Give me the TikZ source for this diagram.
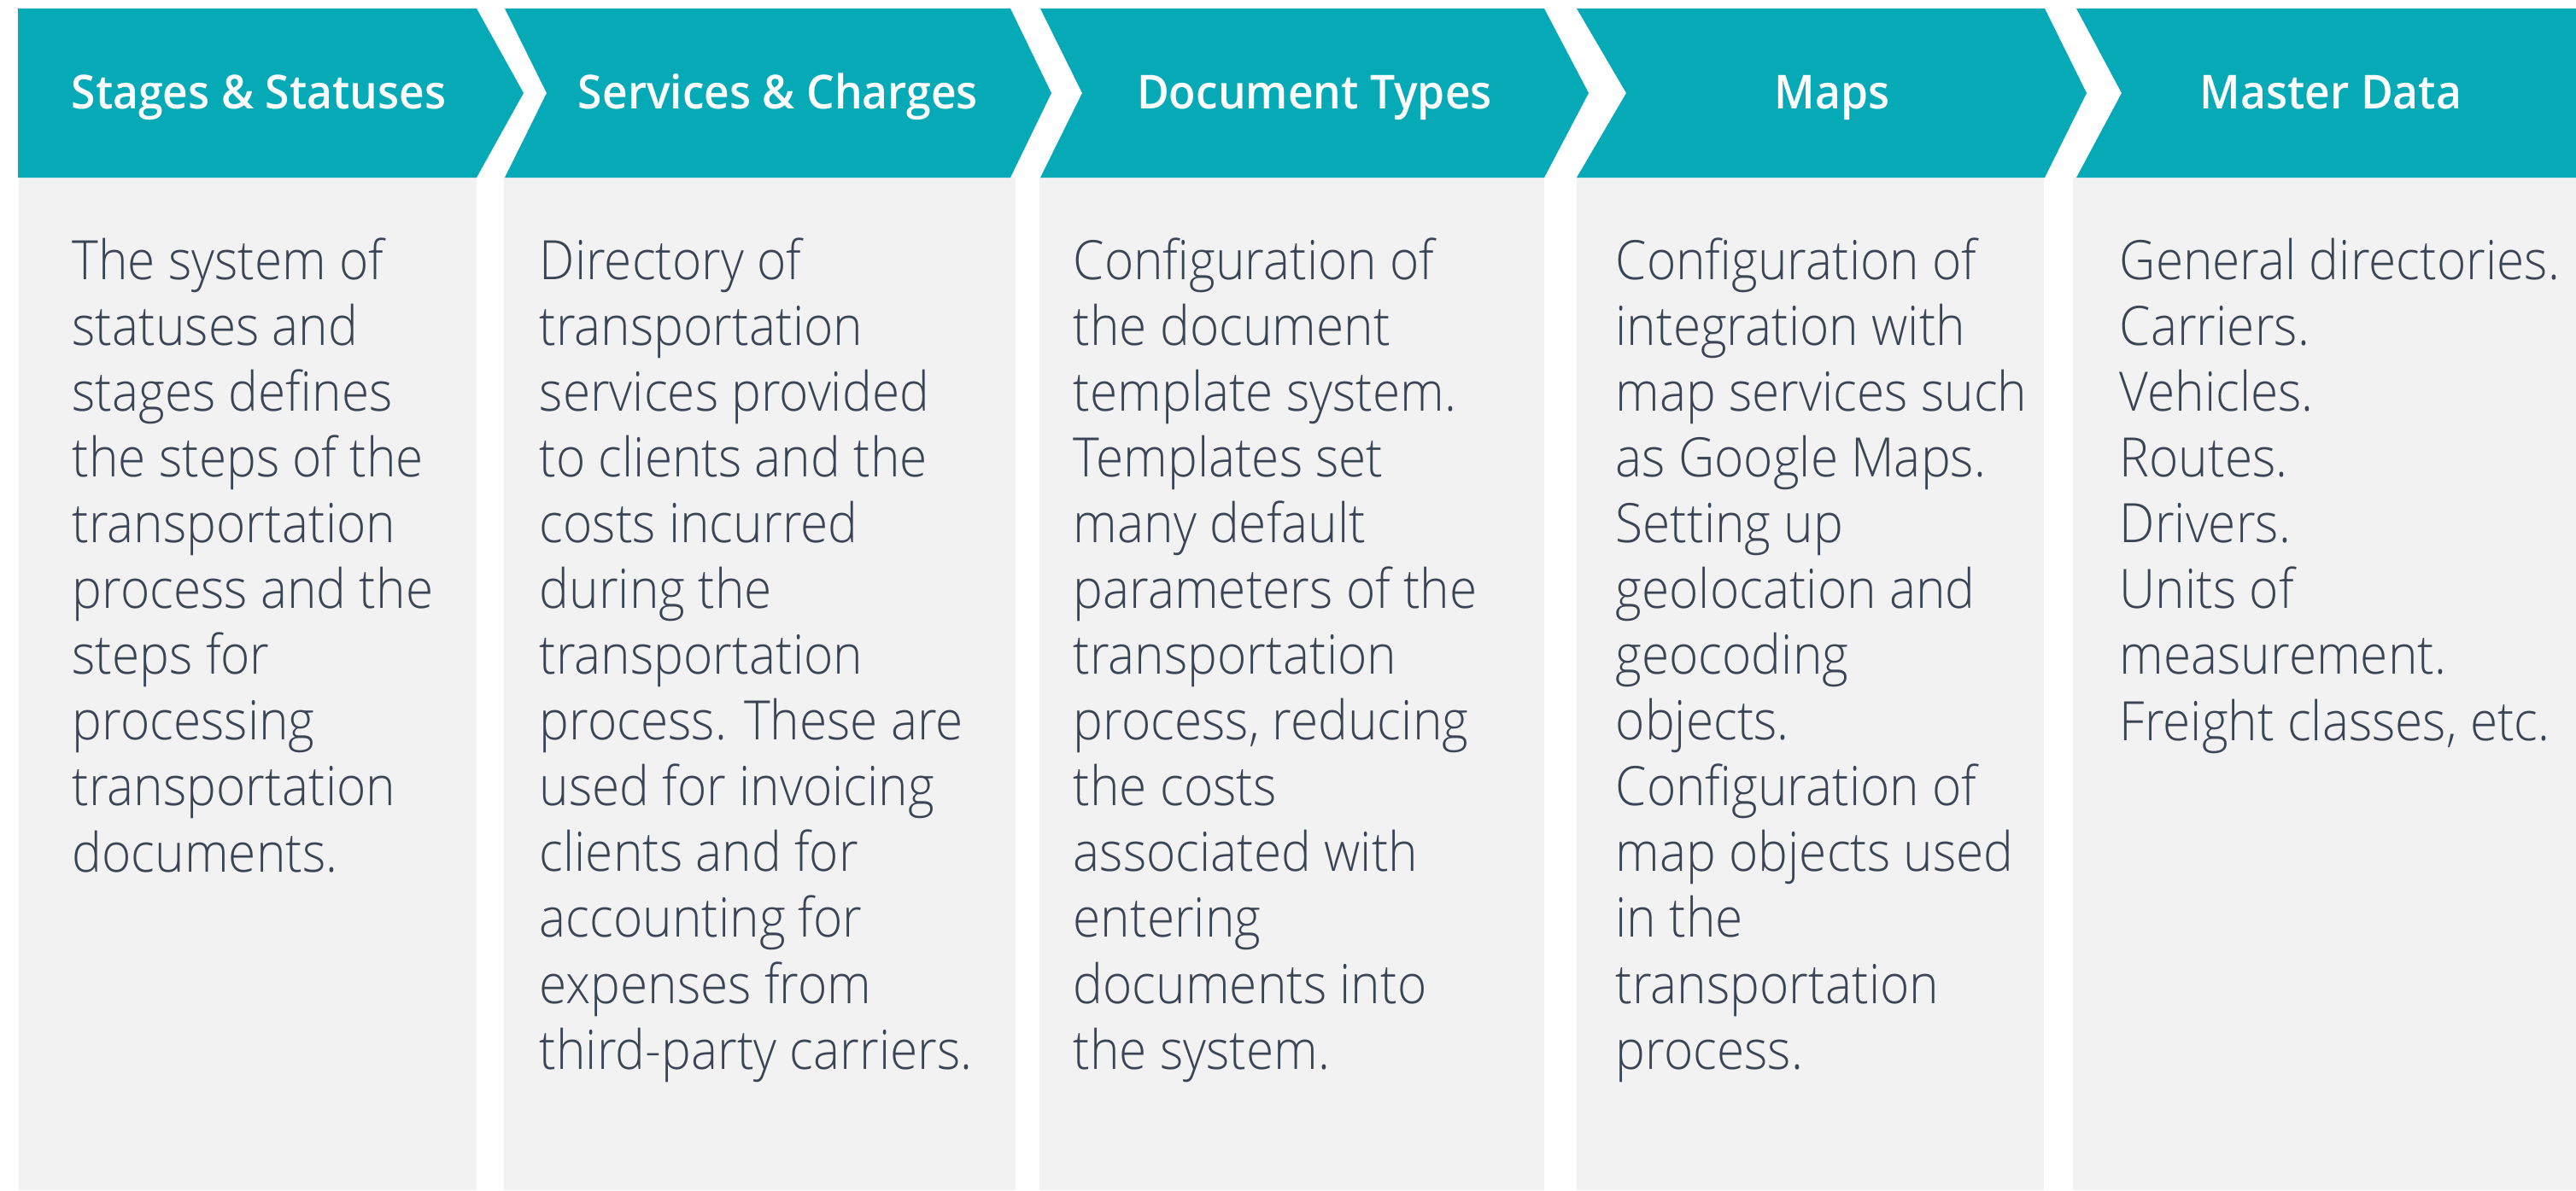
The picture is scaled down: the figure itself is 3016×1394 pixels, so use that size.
\documentclass[tikz,border=0pt]{standalone}
\usepackage{fontspec}
\setmainfont{Open Sans}
\newfontfamily\bodyfont{Open Sans Light}[FakeStretch=0.92]
\newfontfamily\headfont{Open Sans Semibold}[FakeStretch=0.94]

\definecolor{headteal}{RGB}{5,170,182}
\definecolor{panelgray}{RGB}{242,242,242}
\definecolor{textslate}{RGB}{59,68,85}

\begin{document}
\begin{tikzpicture}[x=0.01cm, y=-0.01cm,
        head/.style = {fill = headteal},
        panel/.style = {fill = panelgray},
        title/.style = {font = {\headfont\fontsize{15.6}{18}\selectfont}, text = white, anchor = base, inner sep = 0},
        desc/.style = {font = {\bodyfont\fontsize{18.1}{21.9}\selectfont}, text = textslate, align = left, anchor = base west, inner sep = 0}]
            \useasboundingbox (0, 0) rectangle (3016, 1394);

            % panels under the headers
            \fill[panel] (22, 208) rectangle (558, 1394);
            \fill[panel] (590, 208) rectangle (1189, 1394);
            \fill[panel] (1217, 208) rectangle (1808, 1394);
            \fill[panel] (1846, 208) rectangle (2393, 1394);
            \fill[panel] (2427, 208) rectangle (3016, 1394);

            % chevron headers
            \fill[head] (21, 10) -- (558, 10) -- (613, 109) -- (558, 208) -- (21, 208) -- cycle;
            \fill[head] (591, 10) -- (1183, 10) -- (1231, 109) -- (1183, 208) -- (591, 208) -- (640, 109) -- cycle;
            \fill[head] (1218, 10) -- (1808, 10) -- (1860, 109) -- (1808, 208) -- (1218, 208) -- (1267, 109) -- cycle;
            \fill[head] (1846, 10) -- (2394, 10) -- (2443, 109) -- (2394, 208) -- (1846, 208) -- (1904, 109) -- cycle;
            \fill[head] (2431, 10) -- (3016, 10) -- (3016, 208) -- (2431, 208) -- (2484, 109) -- cycle;

            \node[title] (stages) at (303, 128) {Stages \& Statuses};
            \node[title] (services) at (911, 128) {Services \& Charges};
            \node[title] (doctypes) at (1539, 128) {Document Types};
            \node[title] (maps) at (2145, 128) {Maps};
            \node[title] (master) at (2729, 128) {Master Data};

            % anchored at the baseline of the last line
            \node[desc] (stagestext) at (84, 1021) {The system of\\statuses and\\stages defines\\the steps of the\\transportation\\process and the\\steps for\\processing\\transportation\\documents.};
            \node[desc] (servicestext) at (631, 1252) {Directory of\\transportation\\services provided\\to clients and the\\costs incurred\\during the\\transportation\\process. These are\\used for invoicing\\clients and for\\accounting for\\expenses from\\third-party carriers.};
            \node[desc] (doctypestext) at (1256, 1252) {Configuration of\\the document\\template system.\\Templates set\\many default\\parameters of the\\transportation\\process, reducing\\the costs\\associated with\\entering\\documents into\\the system.};
            \node[desc] (mapstext) at (1891, 1252) {Configuration of\\integration with\\map services such\\as Google Maps.\\Setting up\\geolocation and\\geocoding\\objects.\\Configuration of\\map objects used\\in the\\transportation\\process.};
            \node[desc] (mastertext) at (2481, 867) {General directories.\\Carriers.\\Vehicles.\\Routes.\\Drivers.\\Units of\\measurement.\\Freight classes, etc.};
        \end{tikzpicture}
\end{document}
